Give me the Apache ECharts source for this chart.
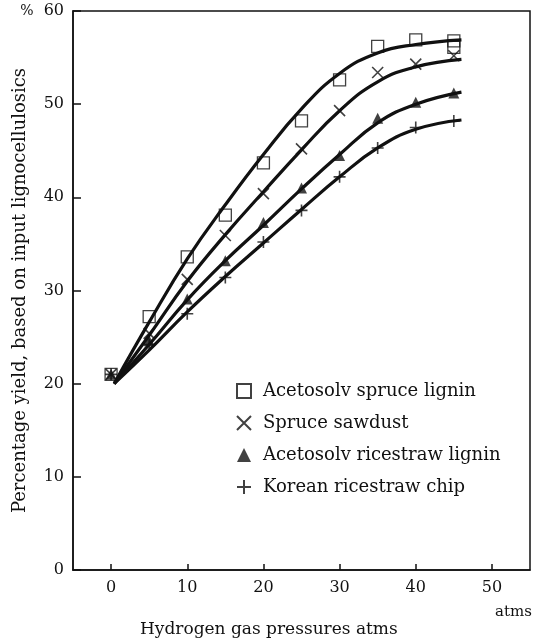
<!DOCTYPE html>
<html><head><meta charset="utf-8">
<script src="https://cdn.jsdelivr.net/npm/echarts@6/dist/echarts.min.js"></script>
<style>html,body{margin:0;padding:0;background:#fff}#c{width:545px;height:641px}</style>
</head><body><div id="c"></div>
<script>
// ---- data ----
const pressures = [0, 5, 10, 15, 20, 25, 30, 35, 40, 45];
const spruceLignin = [21, 27.2, 33.6, 38.1, 43.7, 48.2, 52.6, 56.2, 56.9, 56.8];
const spruceLigninExtra = [[45, 56.1]];
const spruceSawdust = [21, 25.4, 31.2, 35.9, 40.4, 45.2, 49.3, 53.4, 54.3, 55.2];
const ricestrawLignin = [21, 24.6, 29.1, 33.2, 37.3, 41.0, 44.5, 48.5, 50.2, 51.2];
const koreanChip = [21, 24.2, 27.5, 31.4, 35.2, 38.6, 42.2, 45.3, 47.5, 48.2];

// fitted curves as drawn in the reference
const curveX = [0.4, 5, 10, 15, 20, 25, 30, 35, 40, 46];
const curveSpruceLignin = [20, 26.6, 33.4, 39.2, 44.6, 49.5, 53.3, 55.5, 56.4, 56.9];
const curveSawdust = [20, 25.2, 31.0, 36.0, 40.6, 45.1, 49.3, 52.4, 54.0, 54.8];
const curveRicestraw = [20, 24.2, 29.0, 33.2, 37.0, 40.9, 44.6, 48.0, 50.0, 51.3];
const curveKorean = [20, 23.6, 27.7, 31.5, 35.1, 38.7, 42.2, 45.3, 47.3, 48.3];

const xTicks = [0, 10, 20, 30, 40, 50];
const seriesNames = ['Acetosolv spruce lignin', 'Spruce sawdust', 'Acetosolv ricestraw lignin', 'Korean ricestraw chip'];
const yTitle = 'Percentage yield, based on input lignocellulosics';
const xTitle = 'Hydrogen gas pressures atms';
const xUnit = 'atms';

// ---- chart ----
const INK = '#111';
const FONT = 'DejaVu Serif';
const pair = (xs, ys) => xs.map((x, i) => [x, ys[i]]);

const chart = echarts.init(document.getElementById('c'), null, {renderer: 'canvas'});

function curve(name, ys) {
  return {
    name: name, type: 'line', data: pair(curveX, ys), smooth: 0.45,
    symbol: 'none', lineStyle: {color: INK, width: 3.2}, z: 2, silent: true
  };
}
function pts(name, data, symbol, size, style) {
  return {
    name: name, type: 'scatter', data: data, symbol: symbol, symbolSize: size,
    itemStyle: style, z: 3
  };
}
const hollow = {color: 'transparent', borderColor: INK, borderWidth: 1.3};
const stroke = {color: 'transparent', borderColor: INK, borderWidth: 1.6};
const filled = {color: INK};

chart.setOption({
  animation: false,
  backgroundColor: '#fff',
  grid: {left: 73, right: 15, top: 11, bottom: 71, show: true, borderColor: INK, borderWidth: 1.5,
         backgroundColor: 'transparent', containLabel: false, outerBoundsMode: 'none'},
  xAxis: {
    type: 'value', min: -5, max: 55,
    axisLine: {onZero: false, lineStyle: {color: INK, width: 1.5}},
    axisTick: {inside: true, length: 6, customValues: xTicks, lineStyle: {color: INK, width: 1.5}},
    axisLabel: {customValues: xTicks, margin: 10, color: INK, fontFamily: FONT, fontSize: 16},
    splitLine: {show: false}
  },
  yAxis: {
    type: 'value', min: 0, max: 60, interval: 10,
    name: yTitle, nameLocation: 'middle', nameGap: 44, nameMoveOverlap: false,
    nameTextStyle: {color: INK, fontFamily: FONT, fontSize: 18},
    axisLine: {onZero: false, lineStyle: {color: INK, width: 1.5}},
    axisTick: {inside: true, length: 8, lineStyle: {color: INK, width: 1.5}},
    axisLabel: {
      margin: 9, color: INK, fontFamily: FONT, fontSize: 16,
      formatter: v => v === 60 ? '{p|%}60' : String(v),
      rich: {p: {fontFamily: FONT, fontSize: 14, color: INK, padding: [0, 10, 0, 0]}}
    },
    splitLine: {show: false}
  },
  legend: {
    data: seriesNames, orient: 'vertical', left: 231, top: 377,
    itemGap: 14, itemWidth: 14, itemHeight: 14,
    textStyle: {color: INK, fontFamily: FONT, fontSize: 18, padding: [0, 0, 0, 7]}
  },
  graphic: [
    {type: 'text', left: 140, top: 621, style: {text: xTitle, fill: INK, font: '17px "' + FONT + '"'}},
    {type: 'text', left: 495, top: 605, style: {text: xUnit, fill: INK, font: '15px "' + FONT + '"'}}
  ],
  series: [
    curve('fitA', curveSpruceLignin),
    curve('fitB', curveSawdust),
    curve('fitC', curveRicestraw),
    curve('fitD', curveKorean),
    pts(seriesNames[0], pair(pressures, spruceLignin).concat(spruceLigninExtra), 'rect', 12, hollow),
    pts(seriesNames[1], pair(pressures, spruceSawdust), 'path://M0,0L10,10M10,0L0,10', 11, stroke),
    pts(seriesNames[2], pair(pressures, ricestrawLignin), 'triangle', 11, filled),
    pts(seriesNames[3], pair(pressures, koreanChip), 'path://M5,0L5,10M0,5L10,5', 12, stroke)
  ]
});
</script></body></html>
